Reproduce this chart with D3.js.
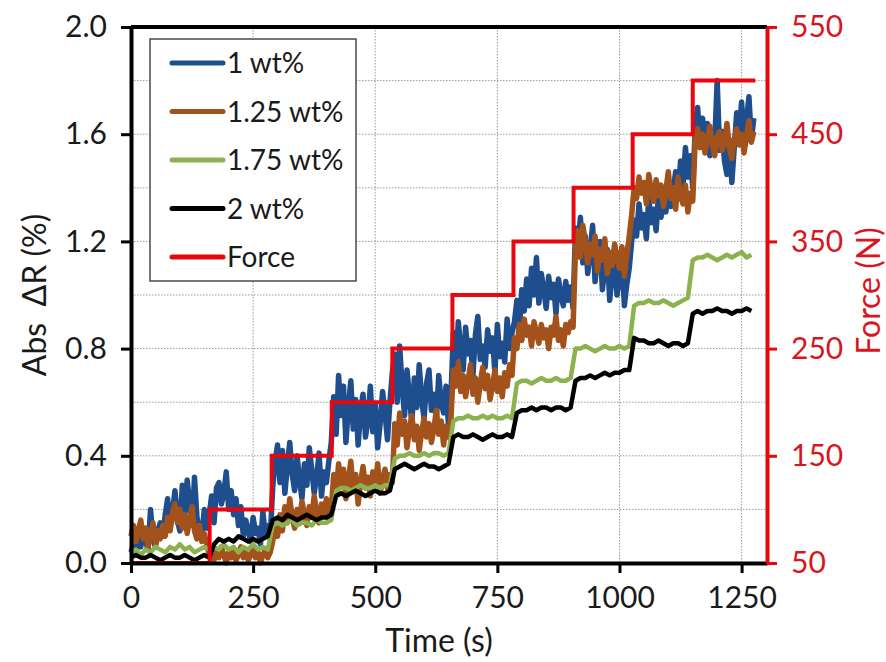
<!DOCTYPE html>
<html>
<head>
<meta charset="utf-8">
<script src="https://cdn.jsdelivr.net/npm/d3@7"></script>
<style>
  body { margin: 0; background: #fff; }
  text { font-family: Lato, "Open Sans", sans-serif; }
</style>
</head>
<body>
<svg id="chart" width="886" height="662"></svg>
<script>
// sample spacing (s) of the resistance records
const stepNoisy = 5;    // 1 wt% and 1.25 wt%
const stepSmooth = 10;  // 1.75 wt% and 2 wt%

// Abs dR (%), 1 wt%
const wt1 = [
  0.04,0.07,0.05,0.10,0.06,0.12,0.08,0.05,0.20,0.09,0.06,0.12,0.15,0.10,0.18,0.24,0.13,0.19,0.27,0.16,0.12,0.29,0.18,0.31,0.22,0.14,0.32,0.17,0.12,0.10,0.20,0.13,
  0.18,0.25,0.15,0.28,0.30,0.22,0.26,0.34,0.20,0.27,0.18,0.24,0.14,0.21,0.10,0.16,0.12,0.08,0.17,0.11,0.13,0.07,0.19,0.10,0.14,0.09,
  0.28,0.38,0.44,0.30,0.42,0.26,0.36,0.45,0.33,0.27,0.40,0.31,0.24,0.37,0.29,0.43,0.35,0.26,0.32,0.41,0.25,0.34,0.30,0.38,0.45,
  0.62,0.48,0.70,0.55,0.66,0.45,0.58,0.68,0.50,0.61,0.44,0.57,0.63,0.47,0.53,0.66,0.49,0.59,0.43,0.52,0.64,0.56,0.46,0.60,0.71,
  0.78,0.60,0.81,0.66,0.55,0.72,0.62,0.52,0.69,0.58,0.74,0.61,0.54,0.67,0.72,0.57,0.63,0.53,0.70,0.60,0.56,0.66,0.51,0.62,
  0.86,0.74,0.90,0.80,0.72,0.88,0.78,0.83,0.70,0.85,0.92,0.76,0.81,0.73,0.87,0.79,0.84,0.71,0.89,0.77,0.82,0.75,0.91,0.80,0.86,
  0.90,0.98,0.86,1.02,0.94,1.06,0.96,1.10,1.00,1.14,0.97,1.08,1.02,0.95,1.07,0.99,1.04,0.93,1.06,1.00,0.96,1.05,0.98,1.03,0.95,
  1.25,1.18,1.29,1.12,1.22,1.08,1.16,1.26,1.05,1.14,1.20,1.02,1.10,1.17,0.98,1.08,1.13,1.00,1.06,1.15,0.96,1.04,1.10,1.20,
  1.28,1.22,1.34,1.25,1.30,1.21,1.36,1.27,1.32,1.24,1.38,1.29,1.35,1.31,1.42,1.33,1.39,1.46,1.36,1.50,1.41,1.55,1.44,1.52,1.40,
  1.62,1.70,1.55,1.66,1.58,1.64,1.52,1.60,1.57,1.80,1.54,1.61,1.50,1.45,1.58,1.42,1.55,1.68,1.60,1.72,1.56,1.65,1.74,1.58,1.66
];

// 1.25 wt%
const wt125 = [
  0.10,0.14,0.08,0.12,0.16,0.09,0.13,0.06,0.11,0.15,0.07,0.12,0.09,0.14,0.10,0.17,0.12,0.19,0.22,0.15,0.20,0.13,0.18,0.11,0.16,0.21,0.12,0.09,0.14,0.08,0.11,0.07,
  0.03,0.05,0.01,0.04,0.02,0.06,0.03,0.00,0.04,0.02,0.05,0.01,0.03,0.06,0.02,0.04,0.01,0.03,0.05,0.02,0.04,0.00,0.03,0.05,0.02,0.04,
  0.08,0.14,0.10,0.18,0.12,0.21,0.15,0.24,0.17,0.13,0.20,0.16,0.23,0.18,0.14,0.21,0.17,0.25,0.19,0.15,0.22,0.18,0.24,0.16,0.20,
  0.33,0.26,0.37,0.29,0.35,0.24,0.31,0.38,0.27,0.33,0.22,0.30,0.36,0.28,0.32,0.25,0.34,0.29,0.37,0.26,0.31,0.35,0.28,0.33,0.30,
  0.52,0.44,0.56,0.48,0.53,0.43,0.50,0.55,0.46,0.51,0.42,0.49,0.54,0.47,0.52,0.45,0.50,0.57,0.48,0.53,0.44,0.51,0.47,0.54,
  0.72,0.66,0.75,0.64,0.70,0.62,0.68,0.74,0.63,0.69,0.60,0.67,0.73,0.65,0.70,0.61,0.66,0.72,0.64,0.69,0.62,0.71,0.66,0.74,0.70,
  0.84,0.80,0.89,0.83,0.91,0.85,0.88,0.81,0.90,0.86,0.82,0.89,0.84,0.87,0.80,0.88,0.85,0.92,0.83,0.87,0.81,0.89,0.86,0.90,0.88,
  1.18,1.24,1.14,1.26,1.20,1.12,1.19,1.15,1.22,1.09,1.17,1.13,1.21,1.08,1.16,1.11,1.19,1.14,1.10,1.18,1.07,1.15,1.22,1.30,
  1.40,1.36,1.44,1.38,1.42,1.34,1.45,1.39,1.35,1.43,1.37,1.41,1.33,1.39,1.46,1.36,1.40,1.32,1.44,1.37,1.34,1.41,1.31,1.38,1.35,
  1.58,1.62,1.55,1.60,1.53,1.58,1.63,1.56,1.52,1.59,1.61,1.54,1.57,1.64,1.55,1.51,1.58,1.62,1.56,1.60,1.53,1.59,1.65,1.57,1.61
];

// 1.75 wt%
const wt175 = [
  0.04,0.05,0.03,0.05,0.04,0.06,0.05,0.04,0.06,0.05,0.07,0.05,0.06,0.04,0.05,0.06,0.05,
  0.06,0.05,0.07,0.05,0.06,0.04,0.06,0.05,0.07,0.05,0.06,0.05,
  0.14,0.15,0.14,0.15,0.16,0.14,0.15,0.15,0.14,0.16,0.15,0.15,0.16,
  0.27,0.28,0.28,0.27,0.28,0.29,0.28,0.28,0.29,0.28,0.29,0.29,
  0.39,0.40,0.40,0.41,0.40,0.40,0.41,0.40,0.41,0.41,0.40,0.41,
  0.53,0.54,0.54,0.55,0.54,0.54,0.55,0.54,0.55,0.54,0.54,0.55,0.54,
  0.67,0.68,0.68,0.67,0.68,0.69,0.68,0.68,0.69,0.68,0.68,0.69,
  0.80,0.80,0.81,0.80,0.79,0.80,0.81,0.80,0.80,0.81,0.80,0.81,
  0.96,0.97,0.97,0.98,0.97,0.97,0.98,0.97,0.96,0.97,0.98,0.99,
  1.13,1.14,1.14,1.15,1.14,1.13,1.14,1.15,1.14,1.15,1.16,1.14,1.15
];

// 2 wt%
const wt2 = [
  0.02,0.03,0.02,0.02,0.03,0.02,0.01,0.02,0.03,0.02,0.02,0.03,0.02,0.01,0.02,0.03,0.02,
  0.07,0.09,0.08,0.09,0.08,0.10,0.09,0.08,0.09,0.08,0.09,0.10,
  0.16,0.17,0.16,0.18,0.17,0.16,0.17,0.18,0.17,0.16,0.17,0.17,0.18,
  0.25,0.26,0.25,0.26,0.27,0.26,0.25,0.26,0.27,0.26,0.26,0.27,
  0.35,0.36,0.37,0.36,0.35,0.36,0.37,0.36,0.36,0.35,0.36,0.37,
  0.47,0.48,0.47,0.47,0.48,0.47,0.46,0.47,0.48,0.47,0.47,0.48,0.47,
  0.56,0.57,0.57,0.58,0.57,0.58,0.58,0.57,0.58,0.58,0.57,0.58,
  0.68,0.69,0.69,0.70,0.69,0.70,0.71,0.70,0.71,0.71,0.72,0.72,
  0.84,0.83,0.83,0.82,0.82,0.83,0.82,0.81,0.82,0.82,0.81,0.82,
  0.93,0.94,0.93,0.94,0.94,0.95,0.94,0.94,0.93,0.94,0.94,0.95,0.94
];

// applied force (N), a staircase: level i holds from forceTimes[i] to forceTimes[i+1]
const forceTimes = [0, 161, 288, 411, 535, 658, 783, 906, 1027, 1150, 1278];
const forceLevels = [50, 100, 150, 200, 250, 300, 350, 400, 450, 500];

const xTicks = [0, 250, 500, 750, 1000, 1250];
const yTicks = [0, 0.4, 0.8, 1.2, 1.6, 2.0];
const yGrid = [0.2, 0.4, 0.6, 0.8, 1.0, 1.2, 1.4, 1.6, 1.8];
const forceTicks = [50, 150, 250, 350, 450, 550];

const seriesNames = ["1 wt%", "1.25 wt%", "1.75 wt%", "2 wt%"];
const seriesColors = ["#1f4e8e", "#a4521c", "#8cb24f", "#000000"];

const RED = "#e8070e";

// setup
const svg = d3.select("#chart");
const margin = { top: 27, right: 119, bottom: 99, left: 131 };
const width = +svg.attr("width") - margin.left - margin.right;
const height = +svg.attr("height") - margin.top - margin.bottom;
const g = svg.append("g").attr("transform", `translate(${margin.left},${margin.top})`);

const x = d3.scaleLinear().domain([0, 1302]).range([0, width]);
const y = d3.scaleLinear().domain([0, 2]).range([height, 0]);
const yF = d3.scaleLinear().domain([50, 550]).range([height, 0]);

// gridlines
g.append("g").selectAll("line.gy")
  .data(yGrid)
  .join("line")
  .attr("x1", 0).attr("x2", width)
  .attr("y1", d => y(d)).attr("y2", d => y(d))
  .attr("stroke", "#9a9a9a").attr("stroke-width", 1)
  .attr("stroke-dasharray", "1.5,1.5");

g.append("g").selectAll("line.gx")
  .data(xTicks.slice(1))
  .join("line")
  .attr("x1", d => x(d)).attr("x2", d => x(d))
  .attr("y1", 0).attr("y2", height)
  .attr("stroke", "#9a9a9a").attr("stroke-width", 1)
  .attr("stroke-dasharray", "1.5,1.5");

// the resistance series
const series = [
  { name: seriesNames[0], color: seriesColors[0], step: stepNoisy, values: wt1, w: 5.5 },
  { name: seriesNames[1], color: seriesColors[1], step: stepNoisy, values: wt125, w: 5.5 },
  { name: seriesNames[2], color: seriesColors[2], step: stepSmooth, values: wt175, w: 4.5 },
  { name: seriesNames[3], color: seriesColors[3], step: stepSmooth, values: wt2, w: 4.5 }
];

series.forEach(s => {
  const line = d3.line()
    .x((d, i) => x(i * s.step))
    .y(d => y(d));
  g.append("path")
    .datum(s.values)
    .attr("fill", "none")
    .attr("stroke", s.color)
    .attr("stroke-width", s.w)
    .attr("stroke-linejoin", "round")
    .attr("d", line);
});

// force staircase
let forceData = forceLevels.map((v, i) => ({ t: forceTimes[i], f: v }));
forceData.push({ t: forceTimes[forceTimes.length - 1], f: forceLevels[forceLevels.length - 1] });

g.append("path")
  .datum(forceData)
  .attr("fill", "none")
  .attr("stroke", RED)
  .attr("stroke-width", 4)
  .attr("d", d3.line().curve(d3.curveStepAfter).x(d => x(d.t)).y(d => yF(d.f)));

// top frame
g.append("line")
  .attr("x1", 0).attr("x2", width)
  .attr("y1", 0).attr("y2", 0)
  .attr("stroke", "#000").attr("stroke-width", 4);

// axes
const xAxis = g.append("g")
  .attr("transform", `translate(0,${height})`)
  .call(d3.axisBottom(x).tickValues(xTicks).tickFormat(d3.format("d")).tickSize(10).tickPadding(14).tickSizeOuter(0));
xAxis.select(".domain").attr("stroke-width", 4);
xAxis.selectAll(".tick line").attr("stroke-width", 3);
xAxis.selectAll("text").attr("font-size", 30).attr("fill", "#1a1a1a");

const yAxis = g.append("g")
  .call(d3.axisLeft(y).tickValues(yTicks).tickFormat(d3.format(".1f")).tickSize(10).tickPadding(14).tickSizeOuter(0));
yAxis.select(".domain").attr("stroke-width", 4);
yAxis.selectAll(".tick line").attr("stroke-width", 3);
yAxis.selectAll("text").attr("font-size", 30).attr("fill", "#1a1a1a");

const fAxis = g.append("g")
  .attr("transform", `translate(${width},0)`)
  .call(d3.axisRight(yF).tickValues(forceTicks).tickSize(10).tickPadding(14).tickSizeOuter(0));
fAxis.select(".domain").attr("stroke", RED).attr("stroke-width", 4);
fAxis.selectAll(".tick line").attr("stroke", RED).attr("stroke-width", 3);
fAxis.selectAll("text").attr("font-size", 30).attr("fill", "#d8161d");

// axis titles
svg.append("text")
  .attr("x", margin.left + width / 2 - 10)
  .attr("y", 652)
  .attr("text-anchor", "middle")
  .attr("font-size", 32)
  .attr("fill", "#1a1a1a")
  .text("Time (s)");

svg.append("text")
  .attr("transform", `translate(46,${margin.top + height / 2}) rotate(-90)`)
  .attr("text-anchor", "middle")
  .attr("font-size", 32)
  .attr("fill", "#1a1a1a")
  .style("white-space", "pre")
  .text("Abs  ΔR (%)");

svg.append("text")
  .attr("transform", `translate(880,${margin.top + height / 2 - 4}) rotate(-90)`)
  .attr("text-anchor", "middle")
  .attr("font-size", 32)
  .attr("fill", "#d8161d")
  .text("Force (N)");

// legend
const legendItems = seriesNames.map((n, i) => ({ name: n, color: seriesColors[i] }))
  .concat([{ name: "Force", color: RED }]);

const legend = svg.append("g").attr("transform", "translate(150,39)");
legend.append("rect")
  .attr("width", 206).attr("height", 242)
  .attr("fill", "#fff")
  .attr("stroke", "#4a4a4a").attr("stroke-width", 1.5);

const item = legend.selectAll("g.item")
  .data(legendItems)
  .join("g")
  .attr("transform", (d, i) => `translate(0,${24 + i * 48.5})`);
item.append("line")
  .attr("x1", 22).attr("x2", 73)
  .attr("stroke", d => d.color).attr("stroke-width", 5)
  .attr("stroke-linecap", "round");
item.append("text")
  .attr("x", 77).attr("dy", "0.36em")
  .attr("font-size", 28)
  .attr("fill", "#1a1a1a")
  .text(d => d.name);
</script>
</body>
</html>
